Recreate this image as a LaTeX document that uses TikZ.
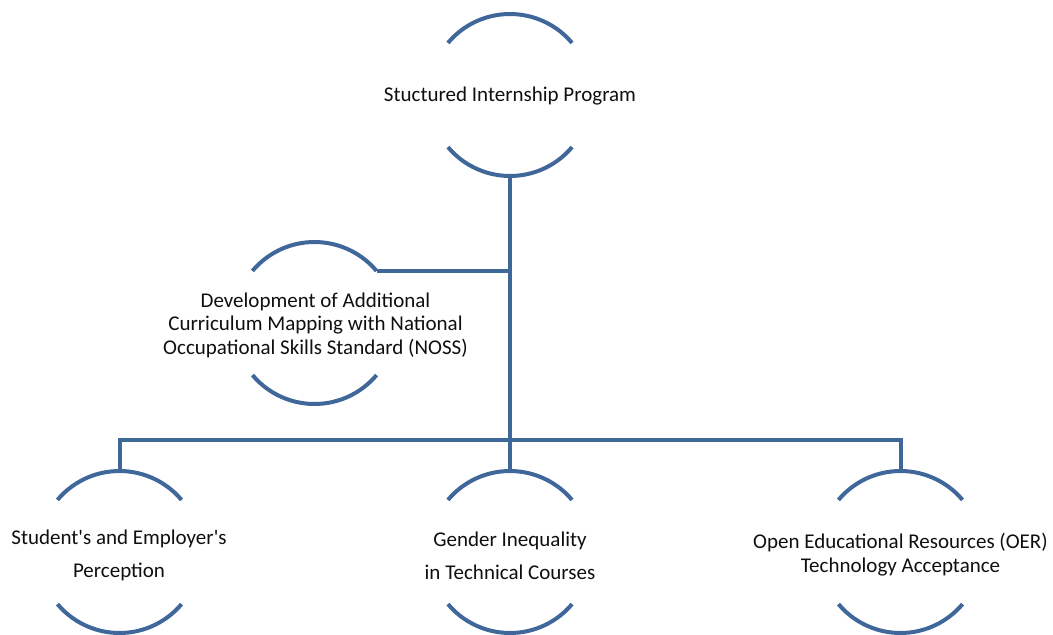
\documentclass[tikz,border=0pt]{standalone}
\usepackage{fontspec}
\setmainfont{Carlito}
\definecolor{arcblue}{RGB}{64,103,153}
\definecolor{txtcol}{RGB}{15,15,15}
\begin{document}
\begin{tikzpicture}[x=1pt,y=1pt,
  ring/.style={circle,draw=none,inner sep=0pt,outer sep=0pt,minimum size=162pt},
  arcline/.style={draw=arcblue,line width=4pt},
  conn/.style={draw=arcblue,line width=4pt,line join=miter},
  lbl/.style={align=center,text=txtcol,inner sep=0pt,font=\fontsize{21}{23.5}\selectfont},
  lblwide/.style={lbl,font=\fontsize{21}{33}\selectfont}]
\useasboundingbox (0,0) rectangle (1053,-635);
% circles
\node[ring] (top) at (510,-95) {};
\node[ring] (mid) at (314.5,-323) {};
\node[ring] (bl) at (119.5,-552) {};
\node[ring] (bm) at (510,-552) {};
\node[ring] (br) at (900.5,-552) {};
\foreach \n in {top,mid,bl,bm,br}{
  \draw[arcline] (\n.40) arc[start angle=40,end angle=140,radius=81];
  \draw[arcline] (\n.-140) arc[start angle=-140,end angle=-40,radius=81];
}
% texts
\node[lbl] (toptxt) at (510,-96) {Stuctured Internship Program};
\node[lbl] (midtxt) at (315.5,-325) {Development of Additional\\Curriculum Mapping with National\\Occupational Skills Standard (NOSS)};
\node[lblwide] (bltxt) at (119,-555.5) {Student\textquotesingle s and Employer\textquotesingle s\\Perception};
\node[lblwide] (bmtxt) at (510,-555.5) {Gender Inequality\\in Technical Courses};
\node[lbl] (brtxt) at (900.5,-554.5) {Open Educational Resources (OER)\\Technology Acceptance};
% connectors
\coordinate (bar) at (510,-440);
\draw[conn] (top.south) -- (bar);
\draw[conn] (mid.40) -- (mid.40 -| top.south);
\draw[conn] (bl.north) -- (bl.north |- bar) -- (br.north |- bar) -- (br.north);
\draw[conn] (bar) -- (bm.north);
\end{tikzpicture}
\end{document}
